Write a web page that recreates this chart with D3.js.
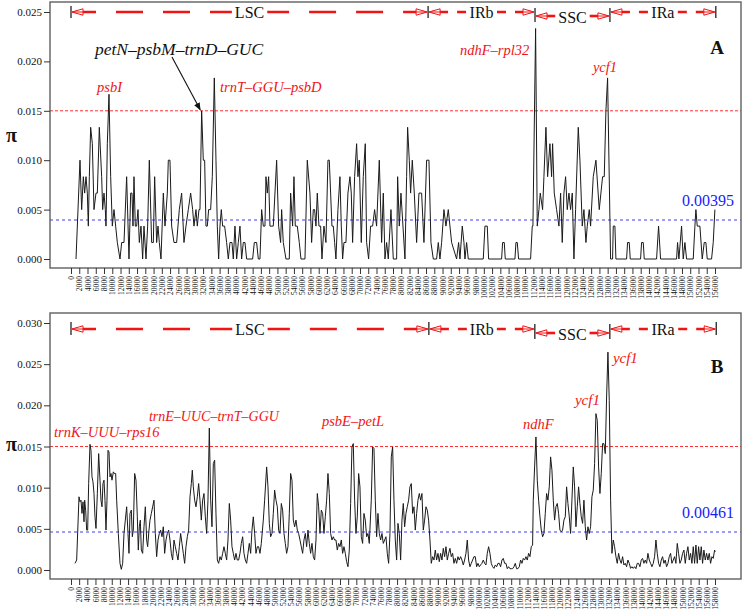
<!DOCTYPE html>
<html><head><meta charset="utf-8">
<script src="https://cdn.jsdelivr.net/npm/d3@7"></script>
<style>
body{margin:0;background:#fff}
svg{display:block}
text{font-family:"Liberation Serif","Times New Roman",serif}
</style>
</head><body>
<svg id="chart" width="743" height="615"></svg>
<script>
// ---------------- DATA ----------------
// Panel A: [position (bp), nucleotide diversity pi]
const piA = [
[1211,0],[2180,.01],[2583,.005],[2987,.00833],[3310,.00667],[3633,.00833],[3956,.00667],[4198,.00333],[4440,.00833],[4763,.01333],
[5167,.01167],[5570,.005],[6055,.00667],[6378,.00667],[6862,.01333],[7427,.00833],[7669,.005],[7992,.00667],[8315,.005],[8477,.00333],
[8800,.01167],[9203,.01667],[9607,.00833],[10011,.00333],[10414,.005],[10818,.00333],[11221,.00167],[11867,0],[12271,.00167],[12836,.00167],
[13482,.00833],[14047,0],[14451,.00667],[14774,.00667],[15016,.00333],[15258,.00833],[15581,.00333],[15904,.00333],[16227,.005],[16550,.00167],
[16953,.00333],[17357,0],[17680,.00333],[18164,0],[18568,.00333],[18972,.01],[19537,.00167],[19940,.00167],[20263,.00833],[20748,.00167],
[21071,.00333],[21393,.00167],[21797,0],[22362,.00667],[22766,.00333],[23331,.00667],[23573,.01],[23977,.01],[24380,.00333],[24945,.00167],
[25591,.00167],[26237,.005],[26802,.00667],[27367,.00167],[27852,.00333],[28417,.005],[28982,.00667],[29466,.005],[29789,.00333],[30274,.005],
[30597,.00333],[31000,.005],[31243,.005],[31646,.015],[32050,.01],[32373,.01],[32696,.00333],[33019,.00333],[33341,.005],[33826,.005],
[34230,.00833],[34714,.01833],[35118,.01],[35440,.00333],[35763,0],[36086,.00333],[36409,.005],[36732,.00333],[37217,.00333],[37701,.00167],
[38105,0],[38508,.00167],[38993,.00167],[39316,0],[39719,.00333],[40123,0],[40526,.00167],[40930,.00333],[41334,0],[41737,.00167],
[42141,.00167],[42545,0],[43998,0],[44402,.00167],[44967,.00167],[45370,0],[45774,0],[46178,.005],[46581,.00333],[46985,.00333],
[47227,.00833],[47550,.00667],[47873,.00833],[48196,.00333],[49003,.00333],[49810,.01],[50295,.00333],[50779,.00167],[51021,.005],[51425,.00167],
[52071,0],[52878,0],[53201,.00667],[53685,.00333],[54008,.00833],[54331,.00333],[54816,.00333],[55300,.00167],[55704,0],[56672,0],
[57238,.01],[57883,.00667],[58287,.00167],[58691,.005],[59014,.005],[59337,.00333],[59659,.00667],[60063,.00333],[60467,.00333],[60790,0],
[61274,.00333],[61758,.00167],[62243,.01],[62566,.01],[62889,.00667],[63212,.00333],[63535,.00333],[63857,.00167],[64180,0],[64665,.005],
[65149,.00833],[65472,.00333],[65795,0],[66118,.00167],[66602,.00167],[67087,.00667],[67571,.00833],[67894,.00667],[68217,.00167],[68701,.00833],
[69186,.01167],[69509,.00833],[69831,.01],[70316,.00167],[70800,.00833],[71285,.01167],[71608,.00167],[72092,0],[72576,.00333],[73061,.00333],
[73545,.005],[74029,.00333],[74680,.01],[75246,.00167],[75649,.00667],[76053,0],[76457,.00167],[76860,0],[77506,.005],[78071,0],
[78878,0],[79121,.00833],[79524,.00333],[79928,.00667],[80897,0],[81300,.00833],[81542,.01333],[81946,.01],[82269,.00667],[82673,.01],
[83157,.00667],[83722,.00167],[84287,.00667],[84933,.00667],[85498,.00167],[86144,.01],[86709,.01],[87194,.00167],[87759,0],[88566,0],
[88970,.00167],[89373,0],[89777,.00167],[90342,.005],[90826,.00333],[91392,.005],[92199,.00167],[93410,0],[93894,.00167],[94217,0],
[94782,.00333],[95186,.00167],[95428,0],[95832,.00167],[96235,0],[99868,0],[100272,.00333],[100837,.00333],[101160,0],[104308,0],
[104551,.00167],[104954,.00167],[105196,0],[107538,0],[107780,.00167],[108103,.00167],[108426,0],[111332,0],[111735,.00333],[111897,.00333],
[112543,.02333],[112946,.00333],[113350,.005],[113673,.00667],[114238,.005],[114561,.00833],[115045,.01333],[115449,.00833],[116014,.01167],[116418,.00833],
[116660,.01167],[117064,.00667],[117629,.005],[118194,.00333],[118598,.00667],[119001,.00167],[119405,.00667],[119809,.00833],[120212,.005],[120616,.00667],
[121019,.005],[121423,.00667],[121827,0],[122230,.005],[122876,.01333],[123280,.01],[123845,.00333],[124249,.005],[124733,.00167],[125056,.00333],
[125540,.005],[125863,.00333],[126509,.00833],[127155,.01],[127962,.005],[128366,.00667],[128770,.00833],[129173,.00833],[129577,.015],[129980,.01833],
[130707,0],[131191,0],[131353,.00333],[131756,.00333],[131999,0],[134582,0],[134824,.00167],[135228,.00167],[135470,0],[137973,0],
[138215,.00167],[138619,.00167],[138861,0],[141848,0],[142332,.00333],[142817,0],[146692,0],[146934,.00167],[147257,0],[147903,.00333],
[148306,0],[148710,.00167],[149114,0],[150728,0],[151132,.00333],[151374,.005],[151697,.00333],[152343,.00333],[152908,0],[153392,.00167],
[153796,.00167],[154119,0],[155168,0],[155572,.00167],[155976,.005]
];

// Panel B: [position (bp), nucleotide diversity pi]
const piB = [
[981,.00081],[1390,.00121],[1962,.00889],[2208,.00828],[2453,.00848],[2698,.00687],[2944,.00828],[3189,.00586],[3353,.00848],[3598,.00727],
[3843,.00485],[4089,.00485],[4334,.0105],[4661,.01527],[4906,.01454],[5152,.01131],[5397,.01071],[5642,.00929],[5887,.00646],[6133,.00505],
[6460,.00929],[6787,.01414],[7114,.01091],[7359,.00848],[7605,.00768],[7850,.0105],[8095,.01091],[8341,.00848],[8586,.00485],[8831,.00848],
[9076,.01454],[9322,.01434],[9567,.01131],[9812,.01172],[10058,.01091],[10385,.01192],[10630,.01172],[10957,.01172],[11202,.00848],[11611,.00444],
[12020,.00081],[12347,.00008],[12674,.00081],[13001,.00444],[13329,.00606],[13656,.00768],[13983,.00444],[14228,.00202],[14473,.00687],[14800,.00727],
[15046,.00404],[15291,.00485],[15618,.01172],[15945,.01091],[16272,.00646],[16518,.00242],[16763,.00525],[17008,.00606],[17253,.00242],[17581,.00202],
[17908,.00525],[18235,.00768],[18562,.00364],[18807,.00283],[19134,.00485],[19379,.00606],[19707,.00687],[20034,.00768],[20361,.00848],[20688,.00444],
[21015,.00162],[21342,.00364],[21669,.00444],[21996,.00485],[22323,.00404],[22650,.00525],[22977,.00202],[23304,.00364],[23632,.00444],[23959,.00485],
[24286,.00364],[24613,.00202],[24940,.00121],[25267,.00364],[25594,.00283],[25921,.00202],[26248,.00121],[26575,.00283],[26902,.00444],[27229,.00323],
[27556,.00202],[27884,.00081],[28211,.00283],[28538,.00404],[28865,.00485],[29192,.00889],[29519,.0105],[29764,.01212],[30010,.0101],[30337,.00848],
[30664,.00768],[30991,.00889],[31318,.0105],[31645,.00848],[31972,.00606],[32299,.00848],[32626,.00929],[32953,.00646],[33280,.00444],[33607,.00848],
[33935,.01725],[34262,.00848],[34589,.00525],[34916,.01293],[35243,.01333],[35570,.00687],[35897,.00121],[36224,.00081],[36551,.00162],[36878,.00121],
[37205,.00202],[37532,.00283],[37860,.00202],[38187,.00121],[38514,.00364],[38841,.00808],[39168,.00606],[39495,.00283],[39822,.00202],[40149,.00121],
[40476,.00202],[40803,.00121],[41130,.00121],[41457,.00202],[41784,.00323],[42112,.00404],[42439,.00202],[42766,.00121],[43093,.00081],[43420,.00202],
[43747,.00323],[44074,.00202],[44401,.00485],[44728,.00646],[45055,.00444],[45382,.00202],[45709,.00283],[46036,.00283],[46364,.00202],[46691,.00323],
[47181,.00606],[47508,.00848],[47999,.01252],[48326,.0101],[48653,.00566],[48980,.00404],[49307,.00444],[49634,.00687],[49961,.0097],[50289,.00848],
[50616,.00768],[50943,.00485],[51270,.00444],[51597,.00808],[51924,.00727],[52251,.00444],[52578,.00323],[52905,.00202],[53232,.00283],[53559,.00687],
[53886,.01172],[54214,.01091],[54541,.00606],[54868,.00525],[55195,.00606],[55522,.00485],[55849,.00444],[56176,.00364],[56503,.00283],[56830,.00202],
[57157,.00364],[57484,.00444],[57811,.00283],[58138,.00485],[58466,.00323],[58793,.00202],[59120,.00323],[59447,.00162],[59774,.00121],[60101,.00364],
[60428,.00929],[60755,.00768],[61082,.00444],[61409,.00727],[61736,.00687],[62063,.00444],[62391,.00646],[62718,.00848],[63045,.01172],[63372,.00929],
[63699,.00444],[64026,.00364],[64353,.00404],[64680,.00364],[65007,.00364],[65334,.00242],[65661,.00323],[65988,.00283],[66315,.00364],[66643,.00202],
[66970,.00283],[67297,.00202],[67624,.00101],[67951,.0004],[68278,.00242],[68605,.00808],[68932,.01495],[69259,.01535],[69586,.00848],[69913,.00444],
[70240,.00646],[70567,.01172],[70894,.0101],[71221,.00404],[71548,.00323],[71875,.00687],[72203,.00606],[72530,.00404],[72857,.00444],[73184,.00323],
[73675,.00848],[74002,.01495],[74329,.01475],[74656,.00848],[74984,.00404],[75310,.00687],[75638,.00444],[75965,.00364],[76292,.00444],[76619,.00323],
[76946,.00364],[77273,.00404],[77600,.00202],[77927,.00081],[78254,.00444],[78581,.01374],[78908,.01495],[79235,.00848],[79562,.00364],[79890,.00121],
[80217,.00566],[80544,.00444],[80871,.00121],[81198,.00606],[81525,.00808],[81852,.00525],[82179,.00687],[82506,.00768],[82833,.00848],[83160,.0101],
[83487,.0105],[83815,.00687],[84142,.00768],[84469,.00485],[84796,.00687],[85123,.00848],[85450,.00929],[85777,.00848],[86104,.00929],[86431,.00485],
[86758,.00606],[87085,.00768],[87412,.00727],[87740,.00606],[88067,.00364],[88394,.00081],[88721,.00162],[89048,.00121],[89375,.00242],[89702,.00121],
[90029,.00202],[90356,.00101],[90683,.00202],[91010,.00121],[91337,.00263],[91665,.00162],[91992,.00283],[92319,.00121],[92646,.00202],[92973,.00263],
[93300,.00162],[93627,.00202],[93954,.00081],[94281,.00141],[94608,.00081],[94935,.00162],[95262,.00121],[95590,.00162],[95917,.00121],[96244,.00061],
[96571,.00121],[96898,.00202],[97225,.00364],[97552,.00121],[97879,.0004],[98206,.00081],[98533,.00121],[98860,.00162],[99187,.00162],[99514,.0004],
[99842,.00081],[100169,.0004],[100496,.00061],[100823,.00081],[101150,.00121],[101477,.00081],[101804,.00061],[102131,.00202],[102458,.00283],[102785,.00202],
[103112,.00081],[103439,.0004],[103766,.0002],[104094,.00061],[104421,.0004],[104748,.00081],[105075,.00081],[105402,.0004],[105729,.00121],[106056,.00141],
[106383,.00081],[106710,.00081],[107037,.00016],[107364,.0004],[107691,.00016],[108018,.00016],[108346,.00016],[108673,.0004],[109000,.00081],[109327,.00016],
[109654,.00016],[109981,.0004],[110308,.00121],[110635,.00081],[110962,.00141],[111289,.00121],[111616,.00162],[111943,.00121],[112270,.00202],[112597,.00162],
[112925,.00283],[113252,.00303],[113415,.00848],[113742,.01252],[114069,.01616],[114396,.01091],[114723,.00848],[115050,.00646],[115377,.00485],[115704,.00404],
[116031,.00444],[116358,.00687],[116685,.00929],[117012,.00848],[117340,.0101],[117667,.01374],[117994,.01212],[118321,.00848],[118648,.00606],[118975,.00768],
[119302,.00808],[119629,.00687],[119956,.00485],[120283,.00465],[120610,.00485],[120937,.00606],[121264,.00646],[121592,.0101],[121919,.00808],[122246,.00646],
[122573,.00444],[122900,.00848],[123227,.01252],[123554,.0101],[123881,.00525],[124208,.00768],[124535,.0101],[124862,.00808],[125189,.00646],[125517,.00566],
[125844,.00848],[126171,.00525],[126498,.00364],[126825,.00525],[127152,.00444],[127479,.00525],[127806,.00889],[128133,.0097],[128460,.01293],[128787,.01899],
[129114,.01818],[129441,.01252],[129769,.00929],[130096,.01172],[130423,.01535],[130750,.01535],[131077,.01414],[131404,.02101],[131731,.02646],[132058,.0206],
[132385,.00848],[132712,.00202],[133039,.00364],[133366,.00283],[133694,.00162],[134021,.00081],[134348,.00202],[134675,.00121],[135002,.00081],[135329,.00162],
[135656,.00061],[135983,.00081],[136310,.0004],[136637,.00121],[136964,.00081],[137291,.0002],[137619,.0004],[137946,.0002],[138273,.0004],[138600,.00016],
[138927,.00081],[139254,.00081],[139581,.0004],[139908,.00121],[140235,.00141],[140562,.00081],[140889,.00121],[141216,.00081],[141544,.00202],[141871,.00121],
[142198,.00081],[142525,.0004],[142852,.00081],[143179,.00162],[143506,.00364],[143833,.00202],[144160,.00081],[144487,.0004],[144814,.00121],[145141,.00162],
[145469,.00081],[145796,.00121],[146123,.0004],[146450,.00081],[146777,.00162],[147104,.00202],[147431,.00081],[147758,.00121],[148085,.00162],[148412,.00081],
[148739,.00323],[149066,.00202],[149394,.00081],[149721,.00121],[150048,.00202],[150375,.00242],[150702,.00081],[151029,.00202],[151356,.00283],[151683,.00121],
[152010,.00202],[152337,.00081],[152664,.00283],[152991,.00081],[153319,.00303],[153646,.00081],[153973,.00283],[154300,.00121],[154627,.00283],[154954,.00081],
[155281,.00242],[155608,.00121],[155935,.00202],[156262,.00121],[156589,.00202],[156916,.00081],[157244,.00162],[157571,.00141],[157898,.00242],[158061,.00222]
];

const xTicksA = d3.range(0, 156001, 2000);
const xTicksB = d3.range(0, 158001, 2000);
const yTicksA = [0, 0.005, 0.010, 0.015, 0.020, 0.025];
const yTicksB = [0, 0.005, 0.010, 0.015, 0.020, 0.025, 0.030];

const regionNames = ["LSC", "IRb", "SSC", "IRa"];
const boundsA = [0, 86500, 112400, 130550, 156200];
const boundsB = [0, 87800, 113800, 132200, 158300];

const threshold = 0.015;
const meanA = 0.00395;
const meanB = 0.00461;

const annotA = [
  {t: "psbI", x: 6300, y: 0.0169, c: "#f01414", s: 14.5},
  {t: "petN\u2013psbM\u2013trnD\u2013GUC", x: 5810, y: 0.02065, c: "#111", s: 17.5},
  {t: "trnT\u2013GGU\u2013psbD", x: 36090, y: 0.0169, c: "#f01414", s: 14.5},
  {t: "ndhF\u2013rpl32", x: 94220, y: 0.02065, c: "#f01414", s: 14.5},
  {t: "ycf1", x: 126430, y: 0.01893, c: "#f01414", s: 14.5}
];
const annotB = [
  {t: "trnK\u2013UUU\u2013rps16", x: -4170, y: 0.01615, c: "#f01414", s: 14.5},
  {t: "trnE\u2013UUC\u2013trnT\u2013GGU", x: 19130, y: 0.0181, c: "#f01414", s: 14},
  {t: "psbE\u2013petL", x: 61570, y: 0.01749, c: "#f01414", s: 14.5},
  {t: "ndhF", x: 110880, y: 0.01713, c: "#f01414", s: 14.5},
  {t: "ycf1", x: 123630, y: 0.02004, c: "#f01414", s: 15},
  {t: "ycf1", x: 132950, y: 0.02514, c: "#f01414", s: 15}
];
// arrow in panel A pointing at petN-psbM-trnD-GUC peak: [from, to]
const arrowA = [[24460, 0.02045], [31300, 0.0151]];

// ---------------- DRAW ----------------
const svg = d3.select("#chart");
const RED = "#f01414";

function panel(cfg) {
  const {top, bottom, yMax, data, xTicks, yTicks, xMax, bounds, mean, annots, letter, lineY, sscY} = cfg;
  const left = 50, right = 741;
  const x = d3.scaleLinear().domain([0, xMax]).range([71, 715]);
  const y = d3.scaleLinear().domain([0, yMax]).range([cfg.y0, cfg.yTop]);
  const g = svg.append("g");

  g.append("line").attr("x1", left).attr("x2", right)
    .attr("y1", y(threshold)).attr("y2", y(threshold))
    .attr("stroke", "#ff3030").attr("stroke-width", 1).attr("stroke-dasharray", "3,2");
  g.append("line").attr("x1", left).attr("x2", right)
    .attr("y1", y(mean)).attr("y2", y(mean))
    .attr("stroke", "#7f7ff2").attr("stroke-width", 1.5).attr("stroke-dasharray", "3,3");

  g.append("path").datum(data)
    .attr("fill", "none").attr("stroke", "#1a1a1a").attr("stroke-width", 1)
    .attr("d", d3.line().x(d => x(d[0])).y(d => y(d[1])));

  g.append("rect").attr("x", left).attr("y", top).attr("width", right - left).attr("height", bottom - top)
    .attr("fill", "none").attr("stroke", "#606060").attr("stroke-width", 1.4);

  const xa = g.append("g").attr("transform", `translate(0,${bottom})`)
    .call(d3.axisBottom(x).tickValues(xTicks).tickSize(6).tickFormat(d3.format("d")));
  xa.select(".domain").remove();
  xa.selectAll(".tick line").attr("stroke", "#333");
  xa.selectAll("text")
    .attr("transform", "rotate(-90)").attr("x", -8).attr("y", 0).attr("dy", "0.35em")
    .style("text-anchor", "end").style("font-size", "7.6px").attr("fill", "#111")
    .style("font-family", "'Liberation Serif', serif");

  const ya = g.append("g").attr("transform", `translate(${left},0)`)
    .call(d3.axisLeft(y).tickValues(yTicks).tickSize(6).tickFormat(d3.format(".3f")));
  ya.select(".domain").remove();
  ya.selectAll(".tick line").attr("stroke", "#333");
  ya.selectAll("text").attr("x", -8).style("font-size", "11px").attr("fill", "#111")
    .style("font-family", "'Liberation Serif', serif");

  g.append("text").attr("x", 6).attr("y", cfg.piY).text("\u03c0")
    .style("font-size", "20px").style("font-weight", "bold").attr("fill", "#111");

  for (let i = 0; i < regionNames.length; i++) {
    const x0 = x(bounds[i]), x1 = x(bounds[i + 1]);
    const isSSC = regionNames[i] === "SSC";
    const ly = isSSC ? sscY : lineY;
    const cx = (x0 + x1) / 2;
    const t = g.append("text").attr("x", cx).attr("y", ly + (isSSC ? 7 : 5.5))
      .attr("text-anchor", "middle").style("font-size", "16px").attr("fill", "#111")
      .text(regionNames[i]);
    const tw = t.node().getComputedTextLength();
    const gapL = cx - tw / 2 - 3, gapR = cx + tw / 2 + 3;
    let dash;
    if (regionNames[i] === "LSC") dash = "21,20,27,20,27,20,27,20,27,20,27,20";
    else if (isSSC) dash = null;
    else dash = "16,9,9,10,9,10";
    [[x0 + 1, gapL, 1], [x1 - 1, gapR, -1]].forEach(([bx, ex, dir]) => {
      const ln = g.append("line").attr("x1", bx + dir * 3).attr("x2", ex)
        .attr("y1", ly).attr("y2", ly).attr("stroke", RED).attr("stroke-width", 2.6);
      if (dash) ln.attr("stroke-dasharray", dash);
      g.append("path")
        .attr("d", `M${bx + dir * 11},${ly - 3.2}L${bx},${ly}L${bx + dir * 11},${ly + 3.2}Z`)
        .attr("fill", "#fff").attr("stroke", RED).attr("stroke-width", 1);
      g.append("line").attr("x1", bx).attr("x2", bx + dir * 11).attr("y1", ly).attr("y2", ly)
        .attr("stroke", RED).attr("stroke-width", 1);
    });
  }
  bounds.forEach((b, i) => {
    const ssc = (i === 2 || i === 3);
    g.append("line").attr("x1", x(b)).attr("x2", x(b))
      .attr("y1", ssc ? cfg.barTop + 2 : cfg.barTop).attr("y2", ssc ? cfg.barBot + 4 : cfg.barBot)
      .attr("stroke", "#111").attr("stroke-width", 1.2);
  });

  annots.forEach(a => {
    g.append("text").attr("x", x(a.x)).attr("y", y(a.y)).text(a.t)
      .style("font-size", a.s + "px").style("font-style", "italic").attr("fill", a.c);
  });
  g.append("text").attr("x", 717).attr("y", cfg.letterY).attr("text-anchor", "middle")
    .style("font-size", "19px").style("font-weight", "bold").attr("fill", "#111").text(letter);
  g.append("text").attr("x", 708).attr("y", y(mean) - (cfg.meanOff)).attr("text-anchor", "middle")
    .style("font-size", "16px").attr("fill", "#1a1aff").text(d3.format(".5f")(mean));

  return {x, y, g};
}

const pA = panel({top: 2, bottom: 268, y0: 259, yTop: 12, yMax: 0.025, data: piA, xTicks: xTicksA, yTicks: yTicksA,
  xMax: 156000, bounds: boundsA, mean: meanA, annots: annotA, letter: "A", lineY: 12, sscY: 16,
  barTop: 6, barBot: 18, piY: 142, letterY: 54, meanOff: 14});

svg.append("defs").append("marker").attr("id", "ah").attr("viewBox", "0 0 10 10")
  .attr("refX", 9).attr("refY", 5).attr("markerWidth", 7).attr("markerHeight", 7).attr("orient", "auto")
  .append("path").attr("d", "M0,1L10,5L0,9Z").attr("fill", "#111");
pA.g.append("line")
  .attr("x1", pA.x(arrowA[0][0])).attr("y1", pA.y(arrowA[0][1]))
  .attr("x2", pA.x(arrowA[1][0])).attr("y2", pA.y(arrowA[1][1]))
  .attr("stroke", "#111").attr("stroke-width", 1.1).attr("marker-end", "url(#ah)");

panel({top: 313, bottom: 579, y0: 570, yTop: 323, yMax: 0.030, data: piB, xTicks: xTicksB, yTicks: yTicksB,
  xMax: 158000, bounds: boundsB, mean: meanB, annots: annotB, letter: "B", lineY: 329, sscY: 333,
  barTop: 322, barBot: 335, piY: 451, letterY: 373, meanOff: 14});
</script>
</body></html>
